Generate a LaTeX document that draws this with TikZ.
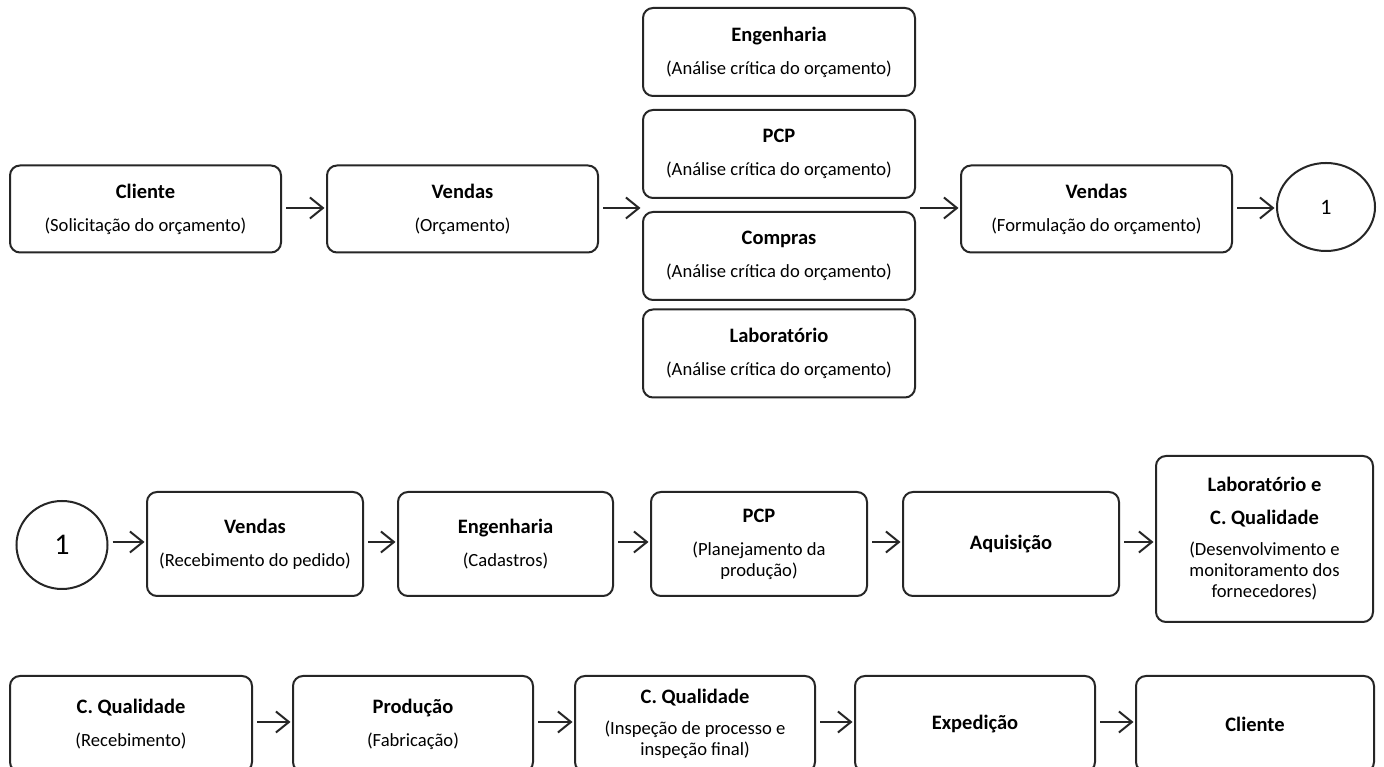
\documentclass[tikz,border=0pt]{standalone}
\usepackage{fontspec}
\setmainfont{Carlito}
\usetikzlibrary{arrows.meta,shapes.geometric}
\tikzset{
  x=1pt,y=1pt,
  procbox/.style={draw=black!85, line width=2pt, rounded corners=10pt, inner sep=0pt,
    align=center, font=\fontsize{18.6}{21}\selectfont},
  conn/.style={draw=black!85, line width=2pt, -{Straight Barb[length=13pt,width=21pt,line width=2pt]},
    shorten <=4pt, shorten >=1.5pt},
  tag/.style={draw=black!85, line width=2pt, ellipse, inner sep=0pt}
}
\newcommand{\ttl}[1]{{\fontsize{20.5}{21}\selectfont\bfseries #1}}
\begin{document}
\begin{tikzpicture}
\useasboundingbox[fill=white] (0,0) rectangle (1384,767);
% Row 1
\node[procbox, minimum width=271, minimum height=87] (cli) at (145.5,558) {\ttl{Cliente}\\[12pt](Solicitação do orçamento)};
\node[procbox, minimum width=271, minimum height=87] (ven) at (462.5,558) {\ttl{Vendas}\\[12pt](Orçamento)};
\node[procbox, minimum width=272, minimum height=88] (eng) at (779,715) {\ttl{Engenharia}\\[12pt](Análise crítica do orçamento)};
\node[procbox, minimum width=272, minimum height=88] (pcp) at (779,613) {\ttl{PCP}\\[12pt](Análise crítica do orçamento)};
\node[procbox, minimum width=272, minimum height=88] (com) at (779,511) {\ttl{Compras}\\[12pt](Análise crítica do orçamento)};
\node[procbox, minimum width=272, minimum height=88] (lab) at (779,413.5) {\ttl{Laboratório}\\[12pt](Análise crítica do orçamento)};
\node[procbox, minimum width=271, minimum height=87] (ven2) at (1096.5,558) {\ttl{Vendas}\\[12pt](Formulação do orçamento)};
\node[tag, minimum width=98, minimum height=88, font=\fontsize{22}{22}\selectfont] (c1) at (1326,560) {1};
\coordinate (r1) at (0,559);
\draw[conn] (cli.east |- r1) -- (ven.west |- r1);
\draw[conn] (ven.east |- r1) -- (com.west |- r1);
\draw[conn] (com.east |- r1) -- (ven2.west |- r1);
\draw[conn] (ven2.east |- r1) -- (c1.west |- r1);
% Row 2
\node[tag, minimum width=91, minimum height=88, font=\fontsize{30}{30}\selectfont] (c2) at (62,222) {1};
\node[procbox, minimum width=216, minimum height=104] (ven3) at (255,223) {\ttl{Vendas}\\[12pt](Recebimento do pedido)};
\node[procbox, minimum width=215, minimum height=104] (eng2) at (505.5,223) {\ttl{Engenharia}\\[12pt](Cadastros)};
\node[procbox, minimum width=216, minimum height=104] (pcp2) at (759,223) {\ttl{PCP}\\[12pt](Planejamento da\\produção)};
\node[procbox, minimum width=216, minimum height=104] (aqu) at (1011,223) {\ttl{Aquisição}};
\node[procbox, minimum width=217, minimum height=166] (labq) at (1264.5,228) {\ttl{Laboratório e}\\[12pt]\ttl{C. Qualidade}\\[10pt](Desenvolvimento e\\monitoramento dos\\fornecedores)};
\coordinate (r2) at (0,225);
\draw[conn] (c2.east |- r2) -- (ven3.west |- r2);
\draw[conn] (ven3.east |- r2) -- (eng2.west |- r2);
\draw[conn] (eng2.east |- r2) -- (pcp2.west |- r2);
\draw[conn] (pcp2.east |- r2) -- (aqu.west |- r2);
\draw[conn] (aqu.east |- r2) -- (labq.west |- r2);
% Row 3
\node[procbox, minimum width=242, minimum height=96] (cq) at (131,43) {\ttl{C. Qualidade}\\[12pt](Recebimento)};
\node[procbox, minimum width=240, minimum height=96] (pro) at (413,43) {\ttl{Produção}\\[12pt](Fabricação)};
\node[procbox, minimum width=240, minimum height=96] (cq2) at (695,43) {\ttl{C. Qualidade}\\[10pt](Inspeção de processo e\\inspeção final)};
\node[procbox, minimum width=240, minimum height=96] (exp) at (975,43) {\ttl{Expedição}};
\node[procbox, minimum width=238, minimum height=96] (cli2) at (1255,43) {\ttl{Cliente}};
\coordinate (r3) at (0,45);
\draw[conn] (cq.east |- r3) -- (pro.west |- r3);
\draw[conn] (pro.east |- r3) -- (cq2.west |- r3);
\draw[conn] (cq2.east |- r3) -- (exp.west |- r3);
\draw[conn] (exp.east |- r3) -- (cli2.west |- r3);
\end{tikzpicture}
\end{document}
